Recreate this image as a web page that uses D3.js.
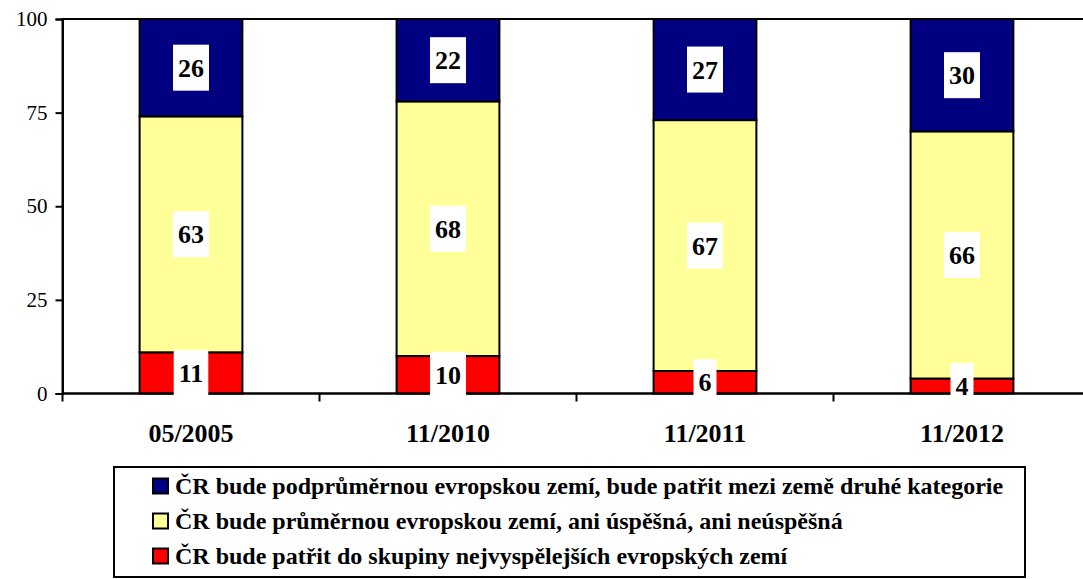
<!DOCTYPE html>
<html>
<head>
<meta charset="utf-8">
<script src="https://cdn.jsdelivr.net/npm/d3@7"></script>
</head>
<body style="margin:0">
<script>
var svgWidth = 1083;
var svgHeight = 579;
var serifFont = "'Liberation Serif', 'Times New Roman', serif";

// data
var categories = ["05/2005", "11/2010", "11/2011", "11/2012"];
var topValues = [26, 22, 27, 30];      // podprůměrnou
var middleValues = [63, 68, 67, 66];   // průměrnou
var bottomValues = [11, 10, 6, 4];     // nejvyspělejší
var yTicks = [0, 25, 50, 75, 100];
var seriesNames = [
    "ČR bude podprůměrnou evropskou zemí, bude patřit mezi země druhé kategorie",
    "ČR bude průměrnou evropskou zemí, ani úspěšná, ani neúspěšná",
    "ČR bude patřit do skupiny nejvyspělejších evropských zemí"
];
var seriesColors = ["#000080", "#FFFF99", "#FF0000"];

var svg = d3.select("body")
    .append("svg")
    .attr("width", svgWidth)
    .attr("height", svgHeight);

var x = d3.scaleBand()
    .domain(categories)
    .range([62.5, 1090.5])
    .paddingInner(0.6)
    .paddingOuter(0.3);

var y = d3.scaleLinear()
    .domain([0, 100])
    .range([393.5, 19]);

// stacked table, red at the bottom
var rows = categories.map(function(c, i) {
    return { cat: c, bottom: bottomValues[i], middle: middleValues[i], top: topValues[i] };
});
var keys = ["bottom", "middle", "top"];
var keyColor = { bottom: seriesColors[2], middle: seriesColors[1], top: seriesColors[0] };
var stacked = d3.stack().keys(keys)(rows);

// plot area frame
svg.append("rect")
    .attr("x", x.range()[0])
    .attr("y", y(100))
    .attr("width", x.range()[1] - x.range()[0])
    .attr("height", y(0) - y(100))
    .attr("fill", "none")
    .attr("stroke", "#000")
    .attr("stroke-width", 2);

// bars
var layers = svg.selectAll(".layer")
    .data(stacked)
    .enter()
    .append("g")
    .attr("class", "layer")
    .attr("fill", d => keyColor[d.key]);

layers.selectAll("rect")
    .data(d => d)
    .enter()
    .append("rect")
    .attr("x", d => x(d.data.cat))
    .attr("y", d => y(d[1]))
    .attr("width", x.bandwidth())
    .attr("height", d => y(d[0]) - y(d[1]))
    .attr("stroke", "#000")
    .attr("stroke-width", 2);

// y axis
var leftAxis = d3.axisLeft(y)
    .tickValues(yTicks)
    .tickSize(7)
    .tickPadding(8)
    .tickFormat(d3.format("d"));

var yAxis = svg.append("g")
    .attr("transform", `translate(${x.range()[0]},0)`)
    .call(leftAxis);
yAxis.select(".domain").attr("stroke-width", 2);
yAxis.selectAll(".tick line").attr("stroke-width", 2);
yAxis.selectAll("text")
    .attr("fill", "#000")
    .style("font-family", serifFont)
    .style("font-size", "21px");

// x axis line + ticks between categories
svg.append("line")
    .attr("x1", x.range()[0])
    .attr("x2", x.range()[1])
    .attr("y1", y(0))
    .attr("y2", y(0))
    .attr("stroke", "#000")
    .attr("stroke-width", 2);

var boundaries = categories.map(c => x(c) - x.step() * x.paddingOuter());
svg.selectAll(".xtick")
    .data(boundaries)
    .enter()
    .append("line")
    .attr("x1", d => d)
    .attr("x2", d => d)
    .attr("y1", y(0))
    .attr("y2", y(0) + 8)
    .attr("stroke", "#000")
    .attr("stroke-width", 2);

svg.selectAll(".xlabel")
    .data(categories)
    .enter()
    .append("text")
    .attr("x", d => x(d) + x.bandwidth() / 2)
    .attr("y", 442)
    .attr("text-anchor", "middle")
    .style("font-family", serifFont)
    .style("font-size", "26px")
    .style("font-weight", "bold")
    .text(d => d);

// value labels on white boxes
stacked.forEach(function(layer) {
    layer.forEach(function(d) {
        var cx = x(d.data.cat) + x.bandwidth() / 2;
        var cy = (y(d[0]) + y(d[1])) / 2;
        var g = svg.append("g");
        var box = g.append("rect").attr("fill", "#fff");
        var t = g.append("text")
            .attr("x", cx)
            .attr("y", cy)
            .attr("dy", "0.35em")
            .attr("text-anchor", "middle")
            .style("font-family", serifFont)
            .style("font-size", "26px")
            .style("font-weight", "bold")
            .text(d.data[layer.key]);
        var w = t.node().getComputedTextLength() + 10;
        box.attr("x", cx - w / 2)
            .attr("y", cy - 23)
            .attr("width", w)
            .attr("height", 46);
    });
});

// legend
var legend = svg.append("g");
legend.append("rect")
    .attr("x", 114)
    .attr("y", 467)
    .attr("width", 911)
    .attr("height", 110)
    .attr("fill", "#fff")
    .attr("stroke", "#000")
    .attr("stroke-width", 2);

var legendItems = legend.selectAll(".item")
    .data(seriesNames)
    .enter()
    .append("g")
    .attr("transform", (d, i) => `translate(153,${486 + i * 35})`);

legendItems.append("rect")
    .attr("x", 0)
    .attr("y", -7.5)
    .attr("width", 15)
    .attr("height", 15)
    .attr("fill", (d, i) => seriesColors[i])
    .attr("stroke", "#000")
    .attr("stroke-width", 2);

legendItems.append("text")
    .attr("x", 22)
    .attr("y", 8)
    .style("font-family", serifFont)
    .style("font-size", "24px")
    .style("font-weight", "bold")
    .text(d => d);
</script>
</body>
</html>
